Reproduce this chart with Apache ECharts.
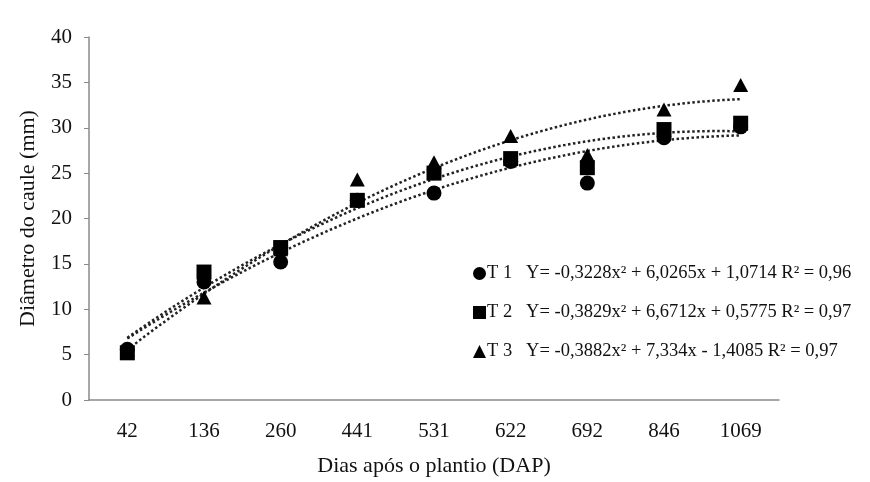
<!DOCTYPE html>
<html><head><meta charset="utf-8">
<script src="https://cdn.jsdelivr.net/npm/echarts@6/dist/echarts.min.js"></script>
<style>html,body{margin:0;padding:0;background:#fff}#c{width:870px;height:482px}</style>
</head><body><div id="c"></div>
<script>
const categories = ['42','136','260','441','531','622','692','846','1069'];
const t1 = [5.6, 13.0, 15.2, 22.0, 22.8, 26.3, 23.9, 28.9, 30.1];
const t2 = [5.2, 14.1, 16.8, 22.0, 25.0, 26.6, 25.6, 29.8, 30.5];
const t3 = [5.5, 11.3, 16.6, 24.3, 26.2, 29.1, 27.0, 32.0, 34.7];
const seriesNames = ['T 1', 'T 2', 'T 3'];
const symbols = ['circle', 'rect', 'triangle'];
// trend coefficients shown in the chart: a*x^2 + b*x + c
const coefA = [-0.3228, -0.3829, -0.3882];
const coefB = [6.0265, 6.6712, 7.334];
const coefC = [1.0714, 0.5775, -1.4085];
const equations = [
  'Y= -0,3228x\u00B2 + 6,0265x + 1,0714 R\u00B2 = 0,96',
  'Y= -0,3829x\u00B2 + 6,6712x + 0,5775 R\u00B2 = 0,97',
  'Y= -0,3882x\u00B2 + 7,334x - 1,4085 R\u00B2 = 0,97'
];
const yTicks = {min: 0, max: 40, interval: 5};

const font = '"Liberation Serif", "Times New Roman", serif';
const dataSets = [t1, t2, t3];

function trend(i) {
  const pts = [];
  for (let k = 0; k <= 80; k++) {
    const x = 1 + k * 0.1;
    pts.push([x, coefA[i] * x * x + coefB[i] * x + coefC[i]]);
  }
  return pts;
}

const series = [];
for (let i = 0; i < 3; i++) {
  series.push({
    name: 'fit' + i, type: 'line', xAxisIndex: 1, yAxisIndex: 0,
    data: trend(i), showSymbol: false, symbol: 'none', silent: true,
    lineStyle: {color: '#222', width: 2.5, type: [2.5, 2.5]}, z: 1
  });
}
for (let i = 0; i < 3; i++) {
  series.push({
    name: seriesNames[i], type: 'scatter', xAxisIndex: 0, yAxisIndex: 0,
    data: dataSets[i], symbol: symbols[i], symbolSize: symbols[i]==='triangle'?[15,14]:15,
    itemStyle: {color: '#000', opacity: 1}, z: 3 + (2 - i)
  });
}

const chart = echarts.init(document.getElementById('c'), null, {renderer: 'canvas'});
chart.setOption({
  backgroundColor: '#fff',
  animation: false,
  textStyle: {fontFamily: font},
  grid: {left: 89, right: 91, top: 37, bottom: 82, containLabel: false},
  legend: {
    data: seriesNames.map((n, i) => ({name: n, icon: symbols[i]})),
    orient: 'vertical', left: 468, top: 259, itemGap: 20,
    itemWidth: 13, itemHeight: 13,
    formatter: function (name) { const i = seriesNames.indexOf(name); return name + '   ' + equations[i]; },
    textStyle: {fontFamily: font, fontSize: 18.5, color: '#111', padding: [0,0,0,-4]},
    selectedMode: false
  },
  xAxis: [{
    type: 'category', data: categories, boundaryGap: true,
    name: 'Dias após o plantio (DAP)', nameLocation: 'middle', nameGap: 55,
    nameTextStyle: {fontFamily: font, fontSize: 22, color: '#111'},
    axisLine: {lineStyle: {color: '#8a8a8a', width: 1.5}},
    axisTick: {inside: true, length: 6, lineStyle: {color: '#8a8a8a'}},
    axisLabel: {fontFamily: font, fontSize: 21, color: '#111', margin: 21},
    splitLine: {show: false}
  }, {
    type: 'value', min: 0.5, max: 9.5, show: false
  }],
  yAxis: [{
    type: 'value', min: yTicks.min, max: yTicks.max, interval: yTicks.interval,
    name: 'Diâmetro do caule (mm)', nameLocation: 'middle', nameGap: 50, nameRotate: 90,
    nameTextStyle: {fontFamily: font, fontSize: 22, color: '#111'},
    axisLine: {show: true, lineStyle: {color: '#8a8a8a', width: 1.5}},
    axisTick: {show: true, inside: false, length: 5, lineStyle: {color: '#8a8a8a'}},
    axisLabel: {fontFamily: font, fontSize: 21, color: '#111', margin: 17},
    splitLine: {show: false}
  }],
  series: series
});
</script></body></html>
